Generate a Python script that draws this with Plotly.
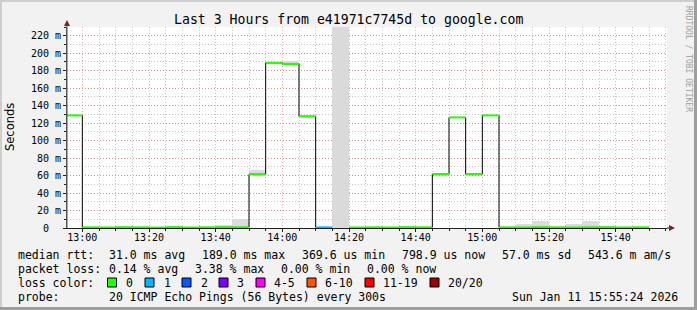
import pandas as pd
import plotly.graph_objects as go

# ---------------- data ----------------
times = ["2026-01-11 12:55", "2026-01-11 13:00", "2026-01-11 13:05", "2026-01-11 13:10",
         "2026-01-11 13:15", "2026-01-11 13:20", "2026-01-11 13:25", "2026-01-11 13:30",
         "2026-01-11 13:35", "2026-01-11 13:40", "2026-01-11 13:45", "2026-01-11 13:50",
         "2026-01-11 13:55", "2026-01-11 14:00", "2026-01-11 14:05", "2026-01-11 14:10",
         "2026-01-11 14:15", "2026-01-11 14:20", "2026-01-11 14:25", "2026-01-11 14:30",
         "2026-01-11 14:35", "2026-01-11 14:40", "2026-01-11 14:45", "2026-01-11 14:50",
         "2026-01-11 14:55", "2026-01-11 15:00", "2026-01-11 15:05", "2026-01-11 15:10",
         "2026-01-11 15:15", "2026-01-11 15:20", "2026-01-11 15:25", "2026-01-11 15:30",
         "2026-01-11 15:35", "2026-01-11 15:40", "2026-01-11 15:45", "2026-01-11 15:50"]
# median rtt in ms (None = unknown / no data)
median_ms = [128.8, 0.7, 0.6, 0.8, 0.7, 0.5, 0.9, 0.6, 0.7, 0.8,
             0.7, 61.5, 189.0, 187.8, 127.8, 0.7, None, 0.6, 0.7, 0.6,
             0.8, 0.7, 61.8, 126.5, 61.8, 128.8, 0.7, 0.6, 0.8, 0.7,
             0.6, 0.7, 0.8, 0.6, 0.8, None]
# lost pings per interval (out of 20)
loss_count = [0, 0, 0, 0, 0, 0, 0, 0, 0, 0,
              0, 0, 0, 0, 0, 1, 0, 0, 0, 0,
              0, 0, 0, 0, 0, 0, 0, 0, 0, 0,
              0, 0, 0, 0, 0, 0]
unknown_times = ["2026-01-11 14:15"]
unknown_top_ms = [230]

smoke_times = ["2026-01-11 13:40", "2026-01-11 13:45", "2026-01-11 13:50", "2026-01-11 14:00",
               "2026-01-11 15:10", "2026-01-11 15:15", "2026-01-11 15:25", "2026-01-11 15:30"]
smoke_low_ms = [0, 0, 60.0, 186.0, 0, 0, 0, 0]
smoke_high_ms = [3.5, 10.0, 66.0, 191.0, 4.8, 7.5, 4.8, 8.5]

loss_labels = ["0", "1", "2", "3", "4-5", "6-10", "11-19", "20/20"]
loss_colors = ["#26ff00", "#00b8ff", "#0059ff", "#7e00ff", "#ff00ff", "#ff5500", "#ff0000", "#a00000"]
loss_upper = [0, 1, 2, 3, 5, 10, 19, 20]

ytick_vals = [0, 20, 40, 60, 80, 100, 120, 140, 160, 180, 200, 220]
ytick_text = ["0\u00a0\u00a0", "20 m", "40 m", "60 m", "80 m", "100 m", "120 m", "140 m",
              "160 m", "180 m", "200 m", "220 m"]

title_text = "Last 3 Hours from e41971c7745d to google.com"
step = pd.Timedelta(minutes=5)
x_start, x_end = "2026-01-11 12:55:24", "2026-01-11 15:55:24"

# ---------------- figure ----------------
W, H = 697, 310
L, R, T, B = 67, 30, 27, 82
PW, PH = W - L - R, H - T - B


def px(x):
    return (x - L) / PW


def py(y):
    return (H - B - y) / PH


MONO = "DejaVu Sans Mono"
fig = go.Figure()

t = pd.to_datetime(pd.Series(times))

# unknown band
fig.add_trace(go.Bar(x=pd.to_datetime(pd.Series(unknown_times)), y=unknown_top_ms, base=0,
                     offset=0, width=300000, marker=dict(color="#dadada", line=dict(width=0)),
                     hoverinfo="skip"))
# smoke
fig.add_trace(go.Bar(x=pd.to_datetime(pd.Series(smoke_times)),
                     y=[h - l for h, l in zip(smoke_high_ms, smoke_low_ms)], base=smoke_low_ms,
                     offset=0, width=300000, marker=dict(color="#dcdcdc", line=dict(width=0)),
                     hoverinfo="skip"))

# black step line
xs_b, ys_b = [], []
for i, v in enumerate(median_ms):
    xs_b.append(t.iloc[i])
    ys_b.append(v)
xs_b.append(t.iloc[len(times) - 2] + step)
ys_b.append(median_ms[len(times) - 2])
fig.add_trace(go.Scatter(x=xs_b, y=ys_b, mode="lines", line=dict(color="#000000", width=1, shape="hv"),
                         connectgaps=False, hoverinfo="skip"))


def loss_class(n):
    for k, up in enumerate(loss_upper):
        if n <= up:
            return k
    return len(loss_upper) - 1


for k, col in enumerate(loss_colors):
    sx, sy = [], []
    for i, v in enumerate(median_ms):
        if v is None or loss_class(loss_count[i]) != k:
            continue
        sx += [t.iloc[i], t.iloc[i] + step, None]
        sy += [v, v, None]
    if sx:
        fig.add_trace(go.Scatter(x=sx, y=sy, mode="lines", line=dict(color=col, width=2),
                                 hoverinfo="skip"))

grid_minor = "rgba(150,150,150,0.55)"
grid_major = "rgba(230,100,100,0.5)"

fig.update_layout(
    width=W, height=H, margin=dict(l=L, r=R, t=T, b=B, pad=0),
    paper_bgcolor="#f2f2f2", plot_bgcolor="#ffffff", showlegend=False,
    barmode="overlay", bargap=0,
    font=dict(family=MONO, size=10, color="#000000"),
)
fig.update_xaxes(
    type="date", range=[x_start, x_end], tickformat="%H:%M",
    tick0="2026-01-11 13:00", dtick=1200000,
    showgrid=True, gridcolor=grid_major, griddash="1px,2px", gridwidth=1,
    ticks="outside", ticklen=3, tickcolor="#1f1f1f", ticklabelstandoff=-3,
    tickfont=dict(family=MONO, size=10, color="#000000"),
    showline=True, linecolor="#1f1f1f", linewidth=1, zeroline=False,
    minor=dict(tick0="2026-01-11 13:00", dtick=300000, showgrid=True, gridcolor=grid_minor,
               griddash="1px,2px", gridwidth=1, ticks="outside", ticklen=2, tickcolor="#1f1f1f"),
)
fig.update_yaxes(
    range=[0, 230], tickmode="array", tickvals=ytick_vals, ticktext=ytick_text,
    showgrid=True, gridcolor=grid_major, griddash="1px,2px", gridwidth=1,
    ticks="outside", ticklen=3, tickcolor="#1f1f1f",
    tickfont=dict(family=MONO, size=10, color="#000000"),
    showline=True, linecolor="#555555", linewidth=1, zeroline=False,
    minor=dict(tickmode="linear", tick0=0, dtick=10, showgrid=True, gridcolor=grid_minor,
               griddash="1px,2px", gridwidth=1, ticks="outside", ticklen=2, tickcolor="#1f1f1f"),
)

shapes = []
# frame shading
shapes.append(dict(type="rect", xref="paper", yref="paper", x0=px(0), x1=px(W), y0=py(0), y1=py(2),
                   fillcolor="#cecece", line=dict(width=0), layer="below"))
shapes.append(dict(type="rect", xref="paper", yref="paper", x0=px(0), x1=px(2), y0=py(0), y1=py(H),
                   fillcolor="#cecece", line=dict(width=0), layer="below"))
shapes.append(dict(type="rect", xref="paper", yref="paper", x0=px(W - 3), x1=px(W), y0=py(0), y1=py(H),
                   fillcolor="#9e9e9e", line=dict(width=0), layer="below"))
shapes.append(dict(type="rect", xref="paper", yref="paper", x0=px(0), x1=px(W), y0=py(H - 3), y1=py(H),
                   fillcolor="#9e9e9e", line=dict(width=0), layer="below"))
# axis extensions + arrows
shapes.append(dict(type="line", xref="paper", yref="paper", x0=px(67), x1=px(67), y0=py(228), y1=py(22),
                   line=dict(color="#555555", width=1)))
shapes.append(dict(type="line", xref="paper", yref="paper", x0=px(667), x1=px(670), y0=py(228), y1=py(228),
                   line=dict(color="#1f1f1f", width=1)))
shapes.append(dict(type="path", xref="paper", yref="paper",
                   path=f"M {px(67)} {py(20)} L {px(64)} {py(26)} L {px(70)} {py(26)} Z",
                   fillcolor="#801f1f", line=dict(width=0)))
shapes.append(dict(type="path", xref="paper", yref="paper",
                   path=f"M {px(675)} {py(228)} L {px(669)} {py(225)} L {px(669)} {py(231)} Z",
                   fillcolor="#801f1f", line=dict(width=0)))

annotations = []


def txt(x, y, s, size=11.5, anchor="left", family=MONO, color="#000000", angle=0):
    annotations.append(dict(x=px(x), y=py(y), xref="paper", yref="paper", text=s, showarrow=False,
                            xanchor=anchor, yanchor="middle", textangle=angle,
                            font=dict(family=family, size=size, color=color)))


txt(348, 19.5, title_text, size=13.2, anchor="center")
txt(10, 127, "Seconds", size=11.5, anchor="center", family="DejaVu Sans", angle=-90)
txt(689, 59, "RRDTOOL / TOBI OETIKER", size=8, anchor="center", color="#a0a0a0", angle=90)

row1 = [(16, "median rtt:"), (107, "31.0 ms avg"), (200, "189.0 ms max"), (300, "369.6 us min"),
        (400, "798.9 us now"), (500, "57.0 ms sd"), (586, "543.6 m am/s")]
for x, s in row1:
    txt(x, 254.5, s)
row2 = [(16, "packet loss:"), (107, "0.14 % avg"), (193, "3.38 % max"), (279, "0.00 % min"),
        (365, "0.00 % now")]
for x, s in row2:
    txt(x, 268.5, s)
txt(16, 282.5, "loss color:")
sq_left = [107.5, 145, 182, 219, 256, 307, 365, 430]
lab_x = [124, 161.5, 198.5, 235, 271.5, 322.5, 381, 446]
for k, lab in enumerate(loss_labels):
    x0 = sq_left[k]
    shapes.append(dict(type="rect", xref="paper", yref="paper", x0=px(x0), x1=px(x0 + 9),
                       y0=py(278), y1=py(287), fillcolor=loss_colors[k],
                       line=dict(color="#000000", width=1)))
    txt(lab_x[k], 282.5, lab)
txt(16, 296.5, "probe:")
txt(107, 296.5, "20 ICMP Echo Pings (56 Bytes) every 300s")
txt(680, 296.5, "Sun Jan 11 15:55:24 2026", anchor="right")

fig.update_layout(shapes=shapes, annotations=annotations)
fig.write_html("out.html")
